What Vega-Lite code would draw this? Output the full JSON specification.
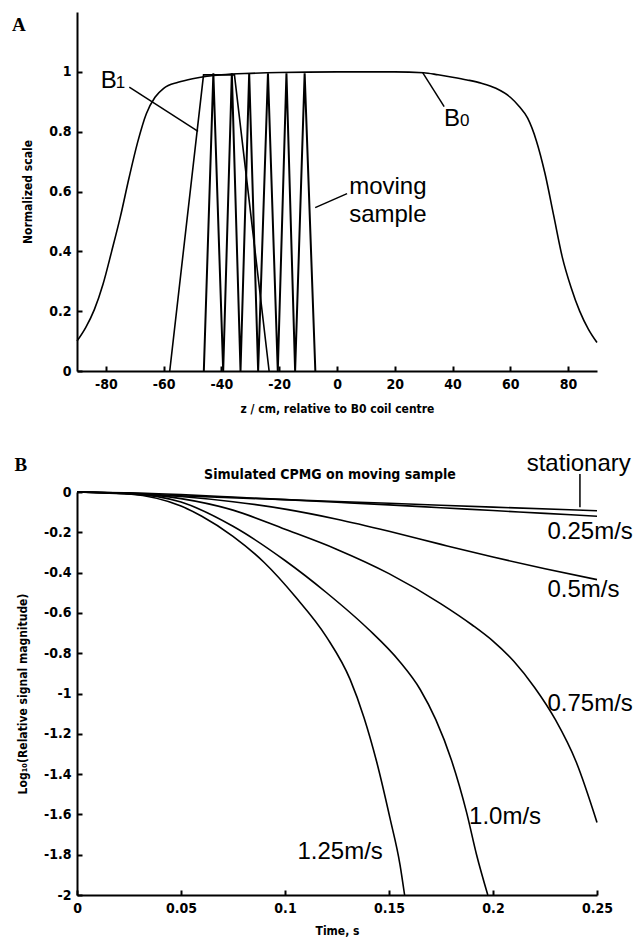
{
  "$schema": "https://vega.github.io/schema/vega-lite/v6.json",
  "background": "white",
  "padding": {"left": 12, "top": 12, "right": 2, "bottom": 2},
  "spacing": 121,
  "bounds": "flush",
  "config": {
    "view": {"stroke": null},
    "axis": {
      "grid": false,
      "domainColor": "black",
      "domainWidth": 2,
      "tickColor": "black",
      "tickWidth": 2,
      "tickSize": -5,
      "labelFont": "DejaVu Sans Condensed",
      "labelFontWeight": "bold",
      "labelFontSize": 14,
      "labelColor": "black",
      "labelPadding": 11,
      "labelFlush": false,
      "labelOverlap": false,
      "titleFont": "DejaVu Sans Condensed",
      "titleFontWeight": "bold",
      "titleFontSize": 12,
      "titleColor": "black"
    }
  },
  "datasets": {
    "a_b0": [
      {"z": -90, "v": 0.1}, {"z": -87, "v": 0.145}, {"z": -84, "v": 0.205}, {"z": -81, "v": 0.29},
      {"z": -78, "v": 0.4}, {"z": -75, "v": 0.515}, {"z": -72, "v": 0.645}, {"z": -69, "v": 0.765},
      {"z": -66, "v": 0.86}, {"z": -63, "v": 0.915}, {"z": -60, "v": 0.945}, {"z": -55, "v": 0.965},
      {"z": -50, "v": 0.977}, {"z": -45, "v": 0.985}, {"z": -40, "v": 0.99}, {"z": -30, "v": 0.995},
      {"z": -20, "v": 0.998}, {"z": 0, "v": 1.0}, {"z": 20, "v": 1.0}, {"z": 30, "v": 0.997},
      {"z": 35, "v": 0.99}, {"z": 40, "v": 0.982}, {"z": 45, "v": 0.973}, {"z": 50, "v": 0.962},
      {"z": 55, "v": 0.945}, {"z": 60, "v": 0.915}, {"z": 63, "v": 0.885}, {"z": 66, "v": 0.845},
      {"z": 69, "v": 0.77}, {"z": 72, "v": 0.66}, {"z": 75, "v": 0.52}, {"z": 78, "v": 0.38},
      {"z": 81, "v": 0.28}, {"z": 84, "v": 0.2}, {"z": 87, "v": 0.14}, {"z": 90, "v": 0.095}
    ],
    "a_b1": [
      {"z": -57.9, "v": 0}, {"z": -46.2, "v": 0.99}, {"z": -35.5, "v": 0.99}, {"z": -23.5, "v": 0}
    ],
    "a_moving": [
      {"z": -46.1, "v": 0}, {"z": -42.8, "v": 0.995}, {"z": -39.4, "v": 0}, {"z": -36.4, "v": 0.995},
      {"z": -33.4, "v": 0}, {"z": -30.4, "v": 0.995}, {"z": -27.3, "v": 0}, {"z": -23.9, "v": 0.995},
      {"z": -20.5, "v": 0}, {"z": -17.5, "v": 0.995}, {"z": -14.5, "v": 0}, {"z": -11.2, "v": 0.995},
      {"z": -7.5, "v": 0}
    ],
    "a_leaders": [
      {"z": -71.9, "v": 0.949, "z2": -48.1, "v2": 0.801},
      {"z": 29.6, "v": 0.998, "z2": 37.1, "v2": 0.884},
      {"z": -7.55, "v": 0.546, "z2": 3.48, "v2": 0.593}
    ],
    "a_labels": [
      {"z": -81.8, "v": 0.946, "label": "B"},
      {"z": 37.0, "v": 0.82, "label": "B"},
      {"z": 4.2, "v": 0.593, "label": "moving"},
      {"z": 4.2, "v": 0.498, "label": "sample"}
    ],
    "a_subs": [
      {"z": -76.6, "v": 0.946, "label": "1"},
      {"z": 42.6, "v": 0.82, "label": "0"}
    ],
    "a_letter": [{"z": -112.5, "v": 1.138, "label": "A"}],
    "b_curves": [
      {"s": "stationary", "t": 0, "y": 0}, {"s": "stationary", "t": 0.05, "y": -0.019},
      {"s": "stationary", "t": 0.1, "y": -0.038}, {"s": "stationary", "t": 0.15, "y": -0.056},
      {"s": "stationary", "t": 0.2, "y": -0.075}, {"s": "stationary", "t": 0.25, "y": -0.093},
      {"s": "0.25", "t": 0, "y": 0}, {"s": "0.25", "t": 0.025, "y": -0.004}, {"s": "0.25", "t": 0.05, "y": -0.013},
      {"s": "0.25", "t": 0.075, "y": -0.025}, {"s": "0.25", "t": 0.1, "y": -0.038}, {"s": "0.25", "t": 0.125, "y": -0.051},
      {"s": "0.25", "t": 0.15, "y": -0.064}, {"s": "0.25", "t": 0.175, "y": -0.078}, {"s": "0.25", "t": 0.2, "y": -0.092},
      {"s": "0.25", "t": 0.225, "y": -0.106}, {"s": "0.25", "t": 0.25, "y": -0.12},
      {"s": "0.5", "t": 0, "y": 0}, {"s": "0.5", "t": 0.025, "y": -0.006}, {"s": "0.5", "t": 0.05, "y": -0.022},
      {"s": "0.5", "t": 0.075, "y": -0.048}, {"s": "0.5", "t": 0.1, "y": -0.085}, {"s": "0.5", "t": 0.125, "y": -0.135},
      {"s": "0.5", "t": 0.15, "y": -0.195}, {"s": "0.5", "t": 0.175, "y": -0.26}, {"s": "0.5", "t": 0.2, "y": -0.323},
      {"s": "0.5", "t": 0.225, "y": -0.381}, {"s": "0.5", "t": 0.25, "y": -0.435},
      {"s": "0.75", "t": 0, "y": 0}, {"s": "0.75", "t": 0.025, "y": -0.007}, {"s": "0.75", "t": 0.05, "y": -0.033},
      {"s": "0.75", "t": 0.075, "y": -0.09}, {"s": "0.75", "t": 0.1, "y": -0.185}, {"s": "0.75", "t": 0.125, "y": -0.285},
      {"s": "0.75", "t": 0.15, "y": -0.405}, {"s": "0.75", "t": 0.175, "y": -0.555}, {"s": "0.75", "t": 0.19, "y": -0.66},
      {"s": "0.75", "t": 0.2, "y": -0.74}, {"s": "0.75", "t": 0.21, "y": -0.84}, {"s": "0.75", "t": 0.22, "y": -0.97},
      {"s": "0.75", "t": 0.23, "y": -1.13}, {"s": "0.75", "t": 0.24, "y": -1.34}, {"s": "0.75", "t": 0.25, "y": -1.64},
      {"s": "1.0", "t": 0, "y": 0}, {"s": "1.0", "t": 0.025, "y": -0.008}, {"s": "1.0", "t": 0.05, "y": -0.05},
      {"s": "1.0", "t": 0.075, "y": -0.17}, {"s": "1.0", "t": 0.1, "y": -0.34}, {"s": "1.0", "t": 0.12, "y": -0.5},
      {"s": "1.0", "t": 0.14, "y": -0.68}, {"s": "1.0", "t": 0.155, "y": -0.84}, {"s": "1.0", "t": 0.165, "y": -0.98},
      {"s": "1.0", "t": 0.1725, "y": -1.13}, {"s": "1.0", "t": 0.18, "y": -1.33}, {"s": "1.0", "t": 0.1873, "y": -1.59},
      {"s": "1.0", "t": 0.1921, "y": -1.8}, {"s": "1.0", "t": 0.1975, "y": -2.0},
      {"s": "1.25", "t": 0, "y": 0}, {"s": "1.25", "t": 0.025, "y": -0.01}, {"s": "1.25", "t": 0.05, "y": -0.07},
      {"s": "1.25", "t": 0.06, "y": -0.12}, {"s": "1.25", "t": 0.075, "y": -0.22}, {"s": "1.25", "t": 0.09, "y": -0.35},
      {"s": "1.25", "t": 0.105, "y": -0.52}, {"s": "1.25", "t": 0.12, "y": -0.72}, {"s": "1.25", "t": 0.1313, "y": -0.93},
      {"s": "1.25", "t": 0.138, "y": -1.12}, {"s": "1.25", "t": 0.1441, "y": -1.34}, {"s": "1.25", "t": 0.1505, "y": -1.62},
      {"s": "1.25", "t": 0.1553, "y": -1.85}, {"s": "1.25", "t": 0.1575, "y": -2.0}
    ],
    "b_labels": [
      {"t": 0.2162, "y": 0.106, "label": "stationary"},
      {"t": 0.2262, "y": -0.233, "label": "0.25m/s"},
      {"t": 0.2262, "y": -0.523, "label": "0.5m/s"},
      {"t": 0.2262, "y": -1.086, "label": "0.75m/s"},
      {"t": 0.1885, "y": -1.648, "label": "1.0m/s"},
      {"t": 0.106, "y": -1.821, "label": "1.25m/s"}
    ],
    "b_title": [{"t": 0.1216, "y": 0.064, "label": "Simulated CPMG on moving sample"}],
    "b_leaders": [{"t": 0.2418, "y": 0.089, "t2": 0.2418, "y2": -0.076}],
    "b_letter": [{"t": -0.030, "y": 0.106, "label": "B"}]
  },
  "vconcat": [
    {
      "width": 520,
      "height": 359,
      "encoding": {
        "x": {
          "field": "z", "type": "quantitative",
          "scale": {"domain": [-90, 90], "nice": false, "zero": false},
          "axis": {
            "values": [-80, -60, -40, -20, 0, 20, 40, 60, 80],
            "title": "z / cm, relative to B0 coil centre",
            "titlePadding": 12,
            "labelExpr": "replace(datum.label, '−', '-')"
          }
        },
        "y": {
          "field": "v", "type": "quantitative",
          "scale": {"domain": [0, 1.2], "nice": false, "zero": false},
          "axis": {
            "values": [0, 0.2, 0.4, 0.6, 0.8, 1],
            "format": "~g",
            "title": "Normalized scale",
            "titlePadding": 14
          }
        }
      },
      "layer": [
        {"data": {"name": "a_b0"}, "mark": {"type": "line", "color": "black", "strokeWidth": 1.6, "interpolate": "monotone"}},
        {"data": {"name": "a_b1"}, "mark": {"type": "line", "color": "black", "strokeWidth": 1.6}},
        {"data": {"name": "a_moving"}, "mark": {"type": "line", "color": "black", "strokeWidth": 2}},
        {"data": {"name": "a_leaders"}, "mark": {"type": "rule", "color": "black", "strokeWidth": 1.5},
         "encoding": {"x2": {"field": "z2"}, "y2": {"field": "v2"}}},
        {"data": {"name": "a_labels"}, "mark": {"type": "text", "font": "Liberation Sans", "fontSize": 24, "align": "left", "baseline": "alphabetic", "color": "black"},
         "encoding": {"text": {"field": "label"}}},
        {"data": {"name": "a_subs"}, "mark": {"type": "text", "font": "Liberation Sans", "fontSize": 17, "align": "left", "baseline": "alphabetic", "color": "black"},
         "encoding": {"text": {"field": "label"}}},
        {"data": {"name": "a_letter"}, "mark": {"type": "text", "font": "Liberation Serif", "fontWeight": "bold", "fontSize": 19, "align": "left", "baseline": "alphabetic", "color": "black"},
         "encoding": {"text": {"field": "label"}}}
      ]
    },
    {
      "width": 520,
      "height": 403,
      "encoding": {
        "x": {
          "field": "t", "type": "quantitative",
          "scale": {"domain": [0, 0.25], "nice": false, "zero": false},
          "axis": {
            "values": [0, 0.05, 0.1, 0.15, 0.2, 0.25],
            "format": "~g",
            "title": "Time, s",
            "titlePadding": 10
          }
        },
        "y": {
          "field": "y", "type": "quantitative",
          "scale": {"domain": [-2, 0], "nice": false, "zero": false},
          "axis": {
            "values": [0, -0.2, -0.4, -0.6, -0.8, -1, -1.2, -1.4, -1.6, -1.8, -2],
            "format": "~g",
            "labelExpr": "replace(datum.label, '−', '-')",
            "title": "Log₁₀(Relative signal magnitude)",
            "titlePadding": 14
          }
        }
      },
      "layer": [
        {"data": {"name": "b_curves"}, "mark": {"type": "line", "color": "black", "strokeWidth": 1.6, "interpolate": "monotone"},
         "encoding": {"detail": {"field": "s"}}},
        {"data": {"name": "b_leaders"}, "mark": {"type": "rule", "color": "black", "strokeWidth": 1.5},
         "encoding": {"x2": {"field": "t2"}, "y2": {"field": "y2"}}},
        {"data": {"name": "b_labels"}, "mark": {"type": "text", "font": "Liberation Sans", "fontSize": 24, "align": "left", "baseline": "alphabetic", "color": "black"},
         "encoding": {"text": {"field": "label"}}},
        {"data": {"name": "b_title"}, "mark": {"type": "text", "font": "DejaVu Sans Condensed", "fontWeight": "bold", "fontSize": 14, "align": "center", "baseline": "alphabetic", "color": "black"},
         "encoding": {"text": {"field": "label"}}},
        {"data": {"name": "b_letter"}, "mark": {"type": "text", "font": "Liberation Serif", "fontWeight": "bold", "fontSize": 19, "align": "left", "baseline": "alphabetic", "color": "black"},
         "encoding": {"text": {"field": "label"}}}
      ]
    }
  ]
}
